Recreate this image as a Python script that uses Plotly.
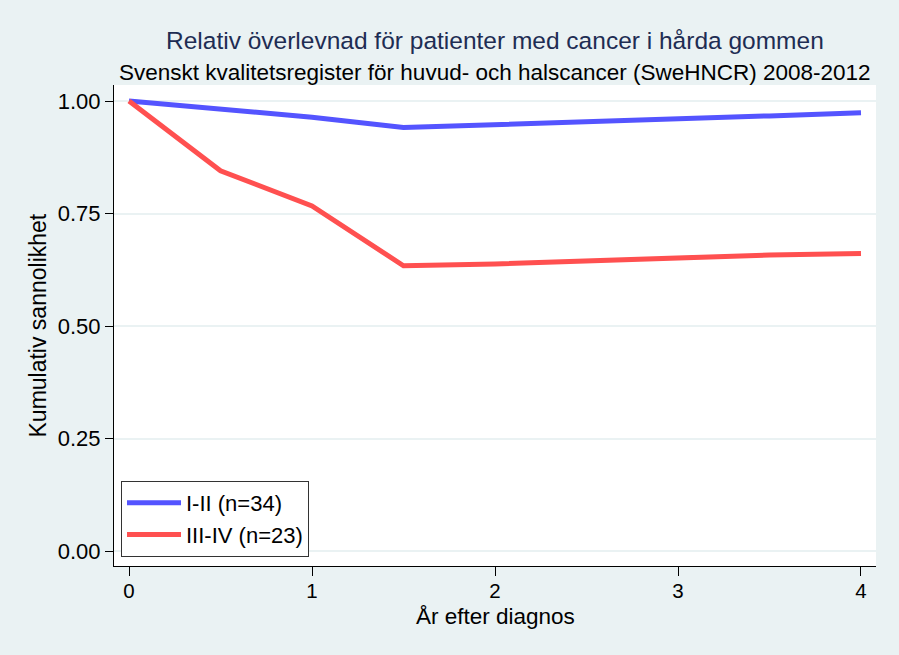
import plotly.graph_objects as go

years = [0, 0.5, 1, 1.5, 2, 2.5, 3, 3.5, 4]
stage_I_II = [1.00, 0.982, 0.964, 0.941, 0.947, 0.954, 0.960, 0.967, 0.974]
stage_III_IV = [1.00, 0.845, 0.767, 0.634, 0.638, 0.644, 0.651, 0.658, 0.661]
names = ["I-II (n=34)", "III-IV (n=23)"]
y_ticks = [0, 0.25, 0.5, 0.75, 1.0]
x_ticks = [0, 1, 2, 3, 4]

title = "Relativ överlevnad för patienter med cancer i hårda gommen"
subtitle = "Svenskt kvalitetsregister för huvud- och halscancer (SweHNCR) 2008-2012"
xtitle = "År efter diagnos"
ytitle = "Kumulativ sannolikhet"

BG = "#EAF2F3"
FONT = "Liberation Sans"

fig = go.Figure()
fig.add_trace(go.Scatter(x=years, y=stage_I_II, mode="lines", name=names[0],
                         line=dict(color="#5454FF", width=5)))
fig.add_trace(go.Scatter(x=years, y=stage_III_IV, mode="lines", name=names[1],
                         line=dict(color="#FF5050", width=5)))

fig.update_layout(
    width=899, height=655,
    paper_bgcolor=BG, plot_bgcolor="white",
    margin=dict(l=114, r=23, t=85, b=89),
    font=dict(family=FONT, color="black", size=22),
    showlegend=True,
    legend=dict(x=0.0092, y=0.0187, xanchor="left", yanchor="bottom",
                bgcolor="white", bordercolor="#333333", borderwidth=1,
                itemwidth=54,
                font=dict(size=22, family=FONT)),
    xaxis=dict(range=[-0.082, 4.082], tickvals=x_ticks, showgrid=False,
               zeroline=False, showline=True, linecolor="black", linewidth=1,
               ticks="outside", ticklen=9, tickcolor="black",
               ticklabelstandoff=-3,
               tickfont=dict(size=20.5)),
    yaxis=dict(range=[-0.033, 1.0356], tickvals=y_ticks, tickformat=".2f",
               showgrid=True, gridcolor=BG, gridwidth=1.5, zeroline=False,
               showline=True, linecolor="black", linewidth=1,
               ticks="outside", ticklen=8, tickcolor="black",
               tickfont=dict(size=22)),
    annotations=[
        dict(text=title, x=0.5, xref="paper", y=1 + 45 / 481, yref="paper",
             xanchor="center", yanchor="middle", showarrow=False,
             font=dict(size=24.5, color="#1E2D53", family=FONT)),
        dict(text=subtitle, x=0.5, xref="paper", y=1 + 13 / 481, yref="paper",
             xanchor="center", yanchor="middle", showarrow=False,
             font=dict(size=22.5, color="black", family=FONT)),
        dict(text=xtitle, x=0.5, xref="paper", y=-50 / 481, yref="paper",
             xanchor="center", yanchor="middle", showarrow=False,
             font=dict(size=22.5, family=FONT)),
        dict(text=ytitle, x=-77 / 762, xref="paper", y=0.5, yref="paper",
             xanchor="center", yanchor="middle", showarrow=False, textangle=-90,
             font=dict(size=23, family=FONT)),
    ],
)

fig.write_html("out.html")
